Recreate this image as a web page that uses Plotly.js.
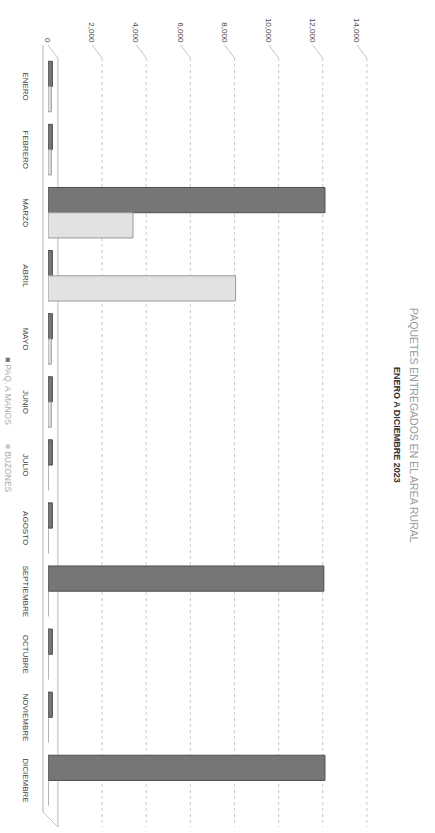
<!DOCTYPE html>
<html>
<head>
<meta charset="utf-8">
<script src="https://cdn.plot.ly/plotly-3.0.1.min.js"></script>
<style>
  html, body { margin: 0; padding: 0; background: #ffffff; overflow: hidden; }
  #wrap { position: absolute; top: 0; left: 0; width: 833px; height: 435px;
          transform-origin: 0 0; transform: translateX(435px) rotate(90deg); }
</style>
</head>
<body>
<div id="wrap"></div>
<script>
// ---- data ----
const months = ['ENERO','FEBRERO','MARZO','ABRIL','MAYO','JUNIO','JULIO','AGOSTO','SEPTIEMBRE','OCTUBRE','NOVIEMBRE','DICIEMBRE'];
const seriesNames = ['PAQ. A MANOS', 'BUZONES'];
const darkValues  = [200, 200, 12550, 200, 200, 200, 200, 200, 12500, 200, 200, 12550];
const lightValues = [150, 150, 3850, 8500, 150, 150, 0, 0, 0, 0, 0, 0];
const tickVals = [0, 2000, 4000, 6000, 8000, 10000, 12000, 14000];
const titleLine1 = 'PAQUETES ENTREGADOS EN EL AREA RURAL';
const titleLine2 = 'ENERO A DICIEMBRE 2023';
const seriesColors = ['#767676', '#e2e2e2'];
const seriesLines = ['#505050', '#9a9a9a'];

// ---- layout geometry (unrotated chart, rotated by CSS) ----
const W = 833, H = 435;
const M = {l: 55, r: 21, t: 67, b: 48};
const PW = W - M.l - M.r, PH = H - M.t - M.b;
const yMax = 14500;
const wallShift = 450; // depth offset of the back wall, in value units
const px = v => v / PW;  // pixels -> paper x
const py = v => v / PH;  // pixels -> paper y

const shapes = [];
tickVals.forEach((v, i) => {
  shapes.push({type: 'line', layer: 'below', xref: 'paper', yref: 'y',
    x0: px(3), x1: 1 + px(15), y0: v + wallShift, y1: v + wallShift,
    line: {color: i === 0 ? '#b8b8b8' : '#c9c9c9', width: 1, dash: i === 0 ? 'solid' : 'dot'}});
  shapes.push({type: 'line', layer: 'below', xref: 'paper', yref: 'y',
    x0: px(-10), x1: px(3), y0: v, y1: v + wallShift,
    line: {color: '#c4c4c4', width: 1}});
});
shapes.push({type: 'line', layer: 'below', xref: 'paper', yref: 'paper',
  x0: px(-10), x1: 1, y0: py(-5), y1: py(-5), line: {color: '#b0b0b0', width: 1}});
shapes.push({type: 'line', layer: 'below', xref: 'paper', yref: 'paper',
  x0: 1, x1: 1 + px(15), y0: py(-5), y1: py(10), line: {color: '#c4c4c4', width: 1}});

const traces = [
  {type: 'bar', name: seriesNames[0], x: months, y: darkValues,
   marker: {color: seriesColors[0], line: {color: seriesLines[0], width: 1}}},
  {type: 'bar', name: seriesNames[1], x: months, y: lightValues,
   marker: {color: seriesColors[1], line: {color: seriesLines[1], width: 1}}}
];

const legendText = seriesNames.map((n, i) =>
  '<span style="color:' + (i === 0 ? seriesColors[0] : '#c8c8c8') + '">■</span> ' + n).join('        ');

const layout = {
  width: W, height: H,
  margin: M,
  paper_bgcolor: '#ffffff', plot_bgcolor: 'rgba(0,0,0,0)',
  font: {family: 'Liberation Sans, Arial, sans-serif', size: 8, color: '#444444'},
  barmode: 'group', bargap: 0.2, bargroupgap: 0,
  showlegend: false,
  xaxis: {type: 'category', showgrid: false, zeroline: false, showline: false, automargin: false,
          ticks: 'outside', ticklen: 14, tickcolor: 'rgba(0,0,0,0)',
          tickfont: {size: 8, color: '#444444'}},
  yaxis: {range: [0, yMax], tickvals: tickVals, tickformat: ',', showgrid: false, automargin: false,
          zeroline: false, showline: false, ticks: 'outside', ticklen: 10,
          tickcolor: 'rgba(0,0,0,0)', tickfont: {size: 8, color: '#444444'}},
  shapes: shapes,
  annotations: [
    {text: titleLine1, xref: 'paper', yref: 'paper', x: px(425 - M.l), y: py(PH + M.t - 21),
     showarrow: false, xanchor: 'center', yanchor: 'middle',
     font: {size: 10.5, color: '#9a9a9a'}},
    {text: '<b>' + titleLine2 + '</b>', xref: 'paper', yref: 'paper', x: px(425 - M.l), y: py(PH + M.t - 38),
     showarrow: false, xanchor: 'center', yanchor: 'middle',
     font: {size: 9, color: '#333333'}},
    {text: legendText, xref: 'paper', yref: 'paper', x: px(425 - M.l), y: py(-40),
     showarrow: false, xanchor: 'center', yanchor: 'middle',
     font: {size: 8.5, color: '#ababab'}}
  ]
};

Plotly.newPlot('wrap', traces, layout, {staticPlot: true, displayModeBar: false});
</script>
</body>
</html>
